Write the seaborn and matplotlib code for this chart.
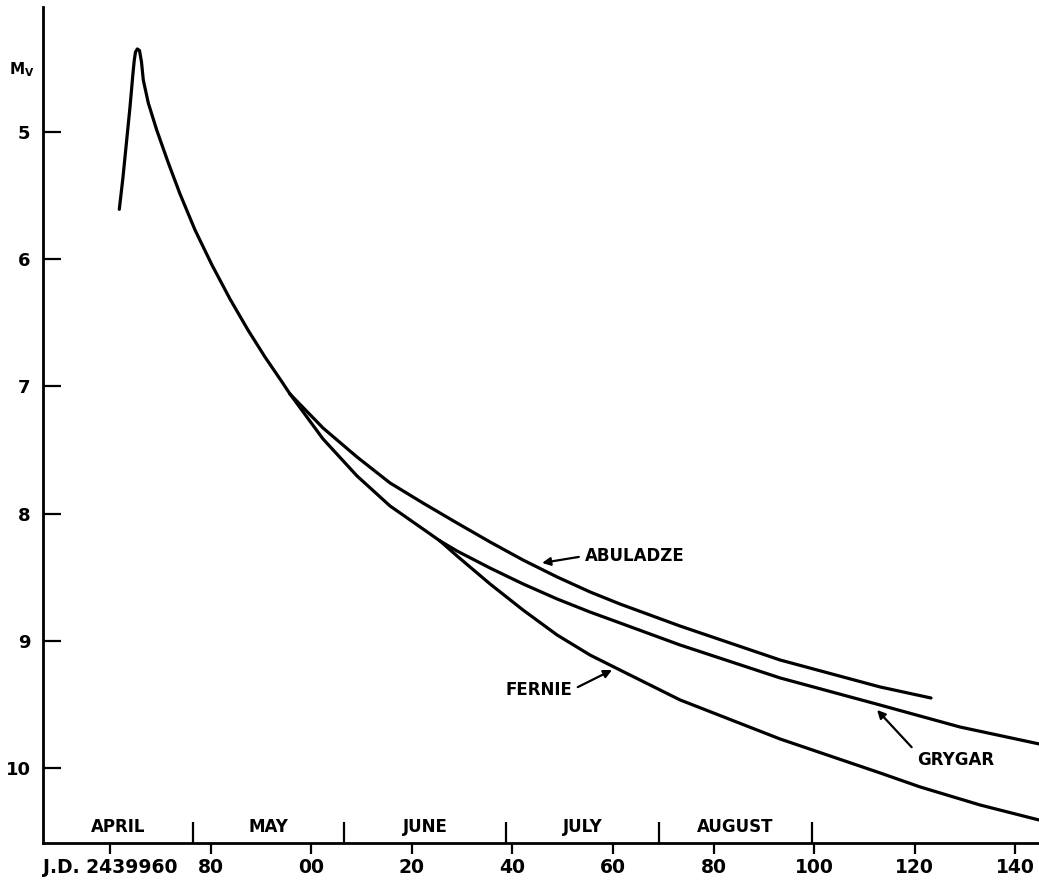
import numpy as np
import pandas as pd
import matplotlib
matplotlib.use("Agg")
import matplotlib.pyplot as plt
import matplotlib.transforms as mtransforms
import seaborn as sns

# ---- data (x = J.D. - 2439960, y = visual magnitude M_V) ----
main_d = [1.849, 2.585, 3.320, 3.976, 4.573, 4.831, 5.070, 5.428, 5.865, 6.263, 6.620,
          7.614, 9.284, 11.531, 13.917, 16.899, 20.279, 23.857, 27.436, 30.815, 34.195, 35.786]
main_m = [5.608, 5.354, 5.063, 4.803, 4.536, 4.434, 4.371, 4.347, 4.359, 4.450, 4.591,
          4.772, 4.984, 5.236, 5.487, 5.770, 6.046, 6.313, 6.557, 6.769, 6.965, 7.060]

abuladze_d = [35.786, 42.346, 49.106, 55.667, 62.227, 68.987, 75.548, 82.109, 88.868,
              95.429, 101.393, 113.322, 133.203, 153.084, 163.223]
abuladze_m = [7.060, 7.327, 7.555, 7.759, 7.917, 8.074, 8.223, 8.365, 8.498,
              8.616, 8.711, 8.884, 9.151, 9.363, 9.450]

shared_d = [35.786, 42.346, 49.106, 55.667, 62.227, 65.607]
shared_m = [7.060, 7.413, 7.704, 7.940, 8.121, 8.215]

grygar_d = [65.607, 68.987, 75.548, 82.109, 88.868, 95.429, 101.393, 113.322, 133.203,
            153.084, 168.986, 184.695]
grygar_m = [8.215, 8.294, 8.428, 8.553, 8.671, 8.774, 8.860, 9.033, 9.292,
            9.505, 9.678, 9.811]

fernie_d = [65.607, 68.987, 75.548, 82.109, 88.868, 95.429, 101.393, 113.322, 133.203,
            153.084, 161.036, 172.965, 184.695]
fernie_m = [8.215, 8.333, 8.553, 8.758, 8.954, 9.112, 9.230, 9.465, 9.772,
            10.039, 10.149, 10.291, 10.409]

x_ticks = [0, 20, 40, 60, 80, 100, 120, 140, 160, 180]
x_labels = ["J.D. 2439960", "80", "00", "20", "40", "60", "80", "100", "120", "140"]
y_ticks = [5, 6, 7, 8, 9, 10]
month_bounds = [16.50, 46.52, 78.73, 109.15, 139.56]
month_names = ["APRIL", "MAY", "JUNE", "JULY", "AUGUST"]

# ---- long-form table ----
frames = []
for name, xs, ys in [("main", main_d, main_m), ("Abuladze", abuladze_d, abuladze_m),
                     ("shared", shared_d, shared_m), ("Grygar", grygar_d, grygar_m),
                     ("Fernie", fernie_d, fernie_m)]:
    frames.append(pd.DataFrame({"jd": xs, "mag": ys, "seg": name}))
df = pd.concat(frames, ignore_index=True)

sns.set_theme(style="white")
plt.rcParams["font.family"] = ["DejaVu Sans"]
plt.rcParams["text.color"] = "black"

fig = plt.figure(figsize=(10.39, 8.84), dpi=100)
ax = fig.add_axes([43 / 1039, 41 / 884, 996 / 1039, 836 / 884])

sns.lineplot(data=df, x="jd", y="mag", hue="seg", units="seg", estimator=None, sort=False,
             palette={k: "black" for k in df["seg"].unique()}, legend=False,
             linewidth=2.3, ax=ax, solid_capstyle="round", solid_joinstyle="round")

xmin, xmax = -13.32, 184.69
ax.set_xlim(xmin, xmax)
ax.set_ylim(10.59, 4.017)

for s in ["top", "right"]:
    ax.spines[s].set_visible(False)
for s in ["left", "bottom"]:
    ax.spines[s].set_color("black")
    ax.spines[s].set_linewidth(2.0)

ax.set_xlabel("")
ax.set_ylabel("")

ax.set_yticks(y_ticks)
ax.set_yticklabels([str(v) for v in y_ticks])
ax.tick_params(axis="y", which="major", direction="in", length=13, width=1.6,
               pad=9, labelsize=13, colors="black", left=True)
for lab in ax.get_yticklabels():
    lab.set_fontweight("bold")

ax.set_xticks(x_ticks)
ax.set_xticklabels(x_labels)
ax.set_xticks(month_bounds, minor=True)
ax.tick_params(axis="x", which="major", direction="out", length=8, width=1.6,
               pad=3, labelsize=13.5, colors="black", bottom=True)
ax.tick_params(axis="x", which="minor", direction="in", length=15, width=1.6,
               colors="black", bottom=True)
for lab in ax.get_xticklabels():
    lab.set_fontweight("bold")

# month names between dividers
trans = mtransforms.blended_transform_factory(ax.transData, ax.transAxes)
edges = [xmin] + month_bounds
for i, name in enumerate(month_names):
    xc = (edges[i] + edges[i + 1]) / 2
    ax.text(xc, 0.019, name, transform=trans, ha="center", va="center",
            fontsize=12, fontweight="bold", color="black")

# axis label M_V
ax.text(-0.021, 0.925, r"$\mathbf{M_V}$", transform=ax.transAxes, ha="center",
        va="center", fontsize=11, color="black")

arrow = dict(arrowstyle="-|>", color="black", lw=1.6, mutation_scale=12,
             shrinkA=2, shrinkB=0)
ax.annotate("ABULADZE", xy=(85.9, 8.388), xytext=(94.4, 8.333),
            ha="left", va="center", fontsize=12, fontweight="bold", color="black",
            arrowprops=dict(arrow, relpos=(0, 0.5)))
ax.annotate("FERNIE", xy=(99.8, 9.23), xytext=(91.85, 9.387),
            ha="right", va="center", fontsize=12, fontweight="bold", color="black",
            arrowprops=dict(arrow, relpos=(1, 0.5)))
ax.annotate("GRYGAR", xy=(152.5, 9.544), xytext=(160.4, 9.937),
            ha="left", va="center", fontsize=12, fontweight="bold", color="black",
            arrowprops=dict(arrow, relpos=(0, 0.9)))

fig.savefig("out.png", dpi=100, facecolor="white")
